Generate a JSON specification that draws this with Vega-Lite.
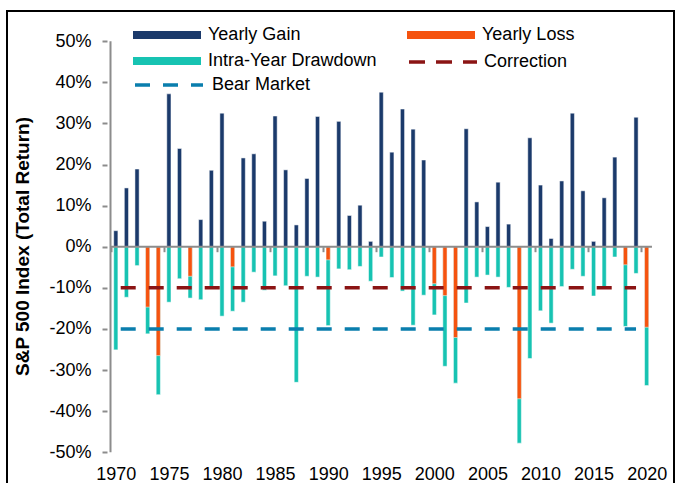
{
  "$schema": "https://vega.github.io/schema/vega-lite/v6.json",
  "width": 667,
  "height": 480,
  "autosize": {"type": "none"},
  "padding": {"left": 7, "top": 11, "right": 2, "bottom": 0},
  "background": "white",
  "config": {"view": {"stroke": "#000000", "strokeWidth": 2}, "font": "Liberation Sans"},
  "datasets": {
    "bars": [
      {"year": 1970, "type": "Yearly Gain", "v": 0.039}, {"year": 1970, "type": "Intra-Year Drawdown", "v": -0.251},
      {"year": 1971, "type": "Yearly Gain", "v": 0.143}, {"year": 1971, "type": "Intra-Year Drawdown", "v": -0.123},
      {"year": 1972, "type": "Yearly Gain", "v": 0.189}, {"year": 1972, "type": "Intra-Year Drawdown", "v": -0.046},
      {"year": 1973, "type": "Yearly Loss", "v": -0.147}, {"year": 1973, "type": "Intra-Year Drawdown", "v": -0.212},
      {"year": 1974, "type": "Yearly Loss", "v": -0.265}, {"year": 1974, "type": "Intra-Year Drawdown", "v": -0.36},
      {"year": 1975, "type": "Yearly Gain", "v": 0.372}, {"year": 1975, "type": "Intra-Year Drawdown", "v": -0.135},
      {"year": 1976, "type": "Yearly Gain", "v": 0.239}, {"year": 1976, "type": "Intra-Year Drawdown", "v": -0.078},
      {"year": 1977, "type": "Yearly Loss", "v": -0.072}, {"year": 1977, "type": "Intra-Year Drawdown", "v": -0.125},
      {"year": 1978, "type": "Yearly Gain", "v": 0.066}, {"year": 1978, "type": "Intra-Year Drawdown", "v": -0.129},
      {"year": 1979, "type": "Yearly Gain", "v": 0.186}, {"year": 1979, "type": "Intra-Year Drawdown", "v": -0.099},
      {"year": 1980, "type": "Yearly Gain", "v": 0.325}, {"year": 1980, "type": "Intra-Year Drawdown", "v": -0.169},
      {"year": 1981, "type": "Yearly Loss", "v": -0.049}, {"year": 1981, "type": "Intra-Year Drawdown", "v": -0.157},
      {"year": 1982, "type": "Yearly Gain", "v": 0.216}, {"year": 1982, "type": "Intra-Year Drawdown", "v": -0.135},
      {"year": 1983, "type": "Yearly Gain", "v": 0.226}, {"year": 1983, "type": "Intra-Year Drawdown", "v": -0.062},
      {"year": 1984, "type": "Yearly Gain", "v": 0.062}, {"year": 1984, "type": "Intra-Year Drawdown", "v": -0.106},
      {"year": 1985, "type": "Yearly Gain", "v": 0.318}, {"year": 1985, "type": "Intra-Year Drawdown", "v": -0.071},
      {"year": 1986, "type": "Yearly Gain", "v": 0.187}, {"year": 1986, "type": "Intra-Year Drawdown", "v": -0.095},
      {"year": 1987, "type": "Yearly Gain", "v": 0.053}, {"year": 1987, "type": "Intra-Year Drawdown", "v": -0.33},
      {"year": 1988, "type": "Yearly Gain", "v": 0.166}, {"year": 1988, "type": "Intra-Year Drawdown", "v": -0.072},
      {"year": 1989, "type": "Yearly Gain", "v": 0.317}, {"year": 1989, "type": "Intra-Year Drawdown", "v": -0.074},
      {"year": 1990, "type": "Yearly Loss", "v": -0.032}, {"year": 1990, "type": "Intra-Year Drawdown", "v": -0.192},
      {"year": 1991, "type": "Yearly Gain", "v": 0.305}, {"year": 1991, "type": "Intra-Year Drawdown", "v": -0.054},
      {"year": 1992, "type": "Yearly Gain", "v": 0.076}, {"year": 1992, "type": "Intra-Year Drawdown", "v": -0.056},
      {"year": 1993, "type": "Yearly Gain", "v": 0.101}, {"year": 1993, "type": "Intra-Year Drawdown", "v": -0.048},
      {"year": 1994, "type": "Yearly Gain", "v": 0.013}, {"year": 1994, "type": "Intra-Year Drawdown", "v": -0.084},
      {"year": 1995, "type": "Yearly Gain", "v": 0.376}, {"year": 1995, "type": "Intra-Year Drawdown", "v": -0.025},
      {"year": 1996, "type": "Yearly Gain", "v": 0.23}, {"year": 1996, "type": "Intra-Year Drawdown", "v": -0.075},
      {"year": 1997, "type": "Yearly Gain", "v": 0.335}, {"year": 1997, "type": "Intra-Year Drawdown", "v": -0.108},
      {"year": 1998, "type": "Yearly Gain", "v": 0.286}, {"year": 1998, "type": "Intra-Year Drawdown", "v": -0.191},
      {"year": 1999, "type": "Yearly Gain", "v": 0.211}, {"year": 1999, "type": "Intra-Year Drawdown", "v": -0.118},
      {"year": 2000, "type": "Yearly Loss", "v": -0.09}, {"year": 2000, "type": "Intra-Year Drawdown", "v": -0.166},
      {"year": 2001, "type": "Yearly Loss", "v": -0.119}, {"year": 2001, "type": "Intra-Year Drawdown", "v": -0.291},
      {"year": 2002, "type": "Yearly Loss", "v": -0.221}, {"year": 2002, "type": "Intra-Year Drawdown", "v": -0.332},
      {"year": 2003, "type": "Yearly Gain", "v": 0.287}, {"year": 2003, "type": "Intra-Year Drawdown", "v": -0.137},
      {"year": 2004, "type": "Yearly Gain", "v": 0.109}, {"year": 2004, "type": "Intra-Year Drawdown", "v": -0.074},
      {"year": 2005, "type": "Yearly Gain", "v": 0.049}, {"year": 2005, "type": "Intra-Year Drawdown", "v": -0.069},
      {"year": 2006, "type": "Yearly Gain", "v": 0.157}, {"year": 2006, "type": "Intra-Year Drawdown", "v": -0.074},
      {"year": 2007, "type": "Yearly Gain", "v": 0.055}, {"year": 2007, "type": "Intra-Year Drawdown", "v": -0.099},
      {"year": 2008, "type": "Yearly Loss", "v": -0.37}, {"year": 2008, "type": "Intra-Year Drawdown", "v": -0.478},
      {"year": 2009, "type": "Yearly Gain", "v": 0.265}, {"year": 2009, "type": "Intra-Year Drawdown", "v": -0.272},
      {"year": 2010, "type": "Yearly Gain", "v": 0.15}, {"year": 2010, "type": "Intra-Year Drawdown", "v": -0.156},
      {"year": 2011, "type": "Yearly Gain", "v": 0.02}, {"year": 2011, "type": "Intra-Year Drawdown", "v": -0.186},
      {"year": 2012, "type": "Yearly Gain", "v": 0.16}, {"year": 2012, "type": "Intra-Year Drawdown", "v": -0.097},
      {"year": 2013, "type": "Yearly Gain", "v": 0.325}, {"year": 2013, "type": "Intra-Year Drawdown", "v": -0.055},
      {"year": 2014, "type": "Yearly Gain", "v": 0.136}, {"year": 2014, "type": "Intra-Year Drawdown", "v": -0.072},
      {"year": 2015, "type": "Yearly Gain", "v": 0.013}, {"year": 2015, "type": "Intra-Year Drawdown", "v": -0.12},
      {"year": 2016, "type": "Yearly Gain", "v": 0.119}, {"year": 2016, "type": "Intra-Year Drawdown", "v": -0.102},
      {"year": 2017, "type": "Yearly Gain", "v": 0.218}, {"year": 2017, "type": "Intra-Year Drawdown", "v": -0.025},
      {"year": 2018, "type": "Yearly Loss", "v": -0.044}, {"year": 2018, "type": "Intra-Year Drawdown", "v": -0.194},
      {"year": 2019, "type": "Yearly Gain", "v": 0.315}, {"year": 2019, "type": "Intra-Year Drawdown", "v": -0.065},
      {"year": 2020, "type": "Yearly Loss", "v": -0.196}, {"year": 2020, "type": "Intra-Year Drawdown", "v": -0.338}
    ],
    "lines": [
      {"type": "Correction", "v": -0.1},
      {"type": "Bear Market", "v": -0.2}
    ]
  },
  "layer": [
    {
      "data": {"name": "bars"},
      "transform": [{"filter": "datum.type == 'Intra-Year Drawdown'"}],
      "mark": {"type": "bar", "size": 4.2, "stroke": "#ffffff", "strokeOpacity": 0.5, "strokeWidth": 1},
      "encoding": {
        "x": {
          "field": "year", "type": "quantitative",
          "scale": {"domain": [1960.222, 2022.105], "nice": false, "zero": false},
          "axis": {
            "orient": "bottom", "offset": -12, "values": [1970, 1975, 1980, 1985, 1990, 1995, 2000, 2005, 2010, 2015, 2020],
            "format": "d", "domain": false, "ticks": false, "tickSize": 0, "labelPadding": 0, "labelBaseline": "alphabetic",
            "labelFontSize": 18, "labelColor": "#000000", "labelFont": "Liberation Sans", "grid": false, "title": null,
            "labelFlush": false, "labelOverlap": false
          }
        },
        "y": {
          "field": "v", "type": "quantitative",
          "scale": {"domain": [-0.5944, 0.5735], "nice": false, "zero": false},
          "axis": {
            "orient": "left", "offset": -100, "values": [-0.5, -0.4, -0.3, -0.2, -0.1, 0, 0.1, 0.2, 0.3, 0.4, 0.5],
            "labelExpr": "round(datum.value * 100) + '%'", "domain": false, "grid": false,
            "tickSize": 5, "tickWidth": 2, "tickColor": "#8c8c8c",
            "labelFontSize": 18, "labelColor": "#000000", "labelFont": "Liberation Sans", "labelPadding": 11,
            "title": "S&P 500 Index (Total Return)", "titleFontSize": 19, "titleFontWeight": "bold", "titleColor": "#000000",
            "titleFont": "Liberation Sans", "titleX": -85, "titleY": 235, "titleAngle": 270, "titleBaseline": "middle", "titleAlign": "center"
          }
        },
        "y2": {"datum": 0},
        "color": {
          "field": "type", "type": "nominal",
          "scale": {"domain": ["Yearly Gain", "Intra-Year Drawdown", "Yearly Loss"], "range": ["#1B3A6B", "#17C3B2", "#F5530F"]},
          "legend": {
            "orient": "none", "legendX": 150, "legendY": 14, "columns": 2, "title": null,
            "symbolType": "M-3.4,-0.41H3.4V0.41H-3.4Z", "symbolSize": 400, "symbolStrokeWidth": 0, "symbolOpacity": 1,
            "labelFontSize": 18, "labelColor": "#000000", "labelFont": "Liberation Sans",
            "labelOffset": 31, "labelLimit": 400, "rowPadding": 7, "columnPadding": 30, "padding": 0
          }
        }
      }
    },
    {
      "data": {"name": "bars"},
      "transform": [{"filter": "datum.type != 'Intra-Year Drawdown'"}],
      "mark": {"type": "bar", "size": 4.2, "stroke": "#ffffff", "strokeOpacity": 0.5, "strokeWidth": 1},
      "encoding": {
        "x": {
          "field": "year", "type": "quantitative",
          "scale": {"domain": [1960.222, 2022.105], "nice": false, "zero": false},
          "axis": {
            "orient": "bottom", "offset": -244.3,
            "values": [1969.5, 1974.5, 1979.5, 1984.5, 1989.5, 1994.5, 1999.5, 2004.5, 2009.5, 2014.5, 2019.5],
            "domain": false, "ticks": true, "tickSize": 5, "tickWidth": 2, "tickColor": "#8c8c8c",
            "labels": false, "grid": false, "title": null
          }
        },
        "y": {
          "field": "v", "type": "quantitative",
          "scale": {"domain": [-0.5944, 0.5735], "nice": false, "zero": false},
          "axis": {
            "orient": "left", "offset": -100, "values": [-0.5, -0.4, -0.3, -0.2, -0.1, 0, 0.1, 0.2, 0.3, 0.4, 0.5],
            "labelExpr": "round(datum.value * 100) + '%'", "domain": false, "grid": false,
            "tickSize": 5, "tickWidth": 2, "tickColor": "#8c8c8c",
            "labelFontSize": 18, "labelColor": "#000000", "labelFont": "Liberation Sans", "labelPadding": 11,
            "title": "S&P 500 Index (Total Return)", "titleFontSize": 19, "titleFontWeight": "bold", "titleColor": "#000000",
            "titleFont": "Liberation Sans", "titleX": -85, "titleY": 235, "titleAngle": 270, "titleBaseline": "middle", "titleAlign": "center"
          }
        },
        "y2": {"datum": 0},
        "color": {
          "field": "type", "type": "nominal",
          "scale": {"domain": ["Yearly Gain", "Intra-Year Drawdown", "Yearly Loss"], "range": ["#1B3A6B", "#17C3B2", "#F5530F"]},
          "legend": {
            "orient": "none", "legendX": 150, "legendY": 14, "columns": 2, "title": null,
            "symbolType": "M-3.4,-0.41H3.4V0.41H-3.4Z", "symbolSize": 400, "symbolStrokeWidth": 0, "symbolOpacity": 1,
            "labelFontSize": 18, "labelColor": "#000000", "labelFont": "Liberation Sans",
            "labelOffset": 31, "labelLimit": 400, "rowPadding": 7, "columnPadding": 30, "padding": 0
          }
        }
      }
    },
    {
      "data": {"name": "lines"},
      "transform": [{"filter": "datum.type == 'Correction'"}],
      "mark": {"type": "rule", "strokeWidth": 3.5, "strokeDash": [15, 13], "strokeDashOffset": 23.1},
      "encoding": {
        "x": {"datum": 1970, "type": "quantitative", "axis": null},
        "x2": {"datum": 2019},
        "y": {
          "field": "v", "type": "quantitative",
          "scale": {"domain": [-0.5944, 0.5735], "nice": false, "zero": false},
          "axis": {
            "orient": "left", "offset": -100, "values": [-0.5, -0.4, -0.3, -0.2, -0.1, 0, 0.1, 0.2, 0.3, 0.4, 0.5],
            "labelExpr": "round(datum.value * 100) + '%'", "domain": false, "grid": false,
            "tickSize": 5, "tickWidth": 2, "tickColor": "#8c8c8c",
            "labelFontSize": 18, "labelColor": "#000000", "labelFont": "Liberation Sans", "labelPadding": 11,
            "title": "S&P 500 Index (Total Return)", "titleFontSize": 19, "titleFontWeight": "bold", "titleColor": "#000000",
            "titleFont": "Liberation Sans", "titleX": -85, "titleY": 235, "titleAngle": 270, "titleBaseline": "middle", "titleAlign": "center"
          }
        },
        "stroke": {
          "field": "type", "type": "nominal",
          "scale": {"domain": ["Correction"], "range": ["#8B1414"]},
          "legend": {
            "orient": "none", "legendX": 424, "legendY": 39, "title": null,
            "symbolType": "M-3.4,0H3.4", "symbolSize": 400, "symbolStrokeWidth": 3.5, "symbolDash": [16, 11], "symbolOpacity": 1,
            "labelFontSize": 18, "labelColor": "#000000", "labelFont": "Liberation Sans",
            "labelOffset": 29, "labelLimit": 400, "padding": 0
          }
        }
      }
    },
    {
      "data": {"name": "lines"},
      "transform": [{"filter": "datum.type == 'Bear Market'"}],
      "mark": {"type": "rule", "stroke": "#0A7EAD", "strokeWidth": 3.5, "strokeDashOffset": 23.1},
      "encoding": {
        "x": {"datum": 1970, "type": "quantitative", "axis": null},
        "x2": {"datum": 2019},
        "y": {
          "field": "v", "type": "quantitative",
          "scale": {"domain": [-0.5944, 0.5735], "nice": false, "zero": false},
          "axis": {
            "orient": "left", "offset": -100, "values": [-0.5, -0.4, -0.3, -0.2, -0.1, 0, 0.1, 0.2, 0.3, 0.4, 0.5],
            "labelExpr": "round(datum.value * 100) + '%'", "domain": false, "grid": false,
            "tickSize": 5, "tickWidth": 2, "tickColor": "#8c8c8c",
            "labelFontSize": 18, "labelColor": "#000000", "labelFont": "Liberation Sans", "labelPadding": 11,
            "title": "S&P 500 Index (Total Return)", "titleFontSize": 19, "titleFontWeight": "bold", "titleColor": "#000000",
            "titleFont": "Liberation Sans", "titleX": -85, "titleY": 235, "titleAngle": 270, "titleBaseline": "middle", "titleAlign": "center"
          }
        },
        "strokeDash": {
          "field": "type", "type": "nominal",
          "scale": {"domain": ["Bear Market"], "range": [[15, 13]]},
          "legend": {
            "orient": "none", "legendX": 150, "legendY": 62, "title": null,
            "symbolType": "M-3.4,0H3.4", "symbolSize": 400, "symbolStrokeWidth": 3.5, "symbolStrokeColor": "#0A7EAD", "symbolOpacity": 1,
            "labelFontSize": 18, "labelColor": "#000000", "labelFont": "Liberation Sans",
            "labelOffset": 31, "labelLimit": 400, "padding": 0
          }
        }
      }
    },
    {
      "data": {"values": [{}]},
      "mark": {"type": "rule", "stroke": "#8c8c8c", "strokeWidth": 2},
      "encoding": {
        "x": {"datum": 1969.5, "type": "quantitative", "axis": null},
        "x2": {"datum": 2020.5},
        "y": {
          "datum": 0, "type": "quantitative",
          "scale": {"domain": [-0.5944, 0.5735], "nice": false, "zero": false},
          "axis": {
            "orient": "left", "offset": -100, "values": [-0.5, -0.4, -0.3, -0.2, -0.1, 0, 0.1, 0.2, 0.3, 0.4, 0.5],
            "labelExpr": "round(datum.value * 100) + '%'", "domain": false, "grid": false,
            "tickSize": 5, "tickWidth": 2, "tickColor": "#8c8c8c",
            "labelFontSize": 18, "labelColor": "#000000", "labelFont": "Liberation Sans", "labelPadding": 11,
            "title": "S&P 500 Index (Total Return)", "titleFontSize": 19, "titleFontWeight": "bold", "titleColor": "#000000",
            "titleFont": "Liberation Sans", "titleX": -85, "titleY": 235, "titleAngle": 270, "titleBaseline": "middle", "titleAlign": "center"
          }
        }
      }
    },
    {
      "data": {"values": [{}]},
      "mark": {"type": "rule", "stroke": "#8c8c8c", "strokeWidth": 2},
      "encoding": {
        "x": {"datum": 1969.5, "type": "quantitative", "axis": null},
        "y": {
          "datum": -0.5, "type": "quantitative",
          "scale": {"domain": [-0.5944, 0.5735], "nice": false, "zero": false},
          "axis": {
            "orient": "left", "offset": -100, "values": [-0.5, -0.4, -0.3, -0.2, -0.1, 0, 0.1, 0.2, 0.3, 0.4, 0.5],
            "labelExpr": "round(datum.value * 100) + '%'", "domain": false, "grid": false,
            "tickSize": 5, "tickWidth": 2, "tickColor": "#8c8c8c",
            "labelFontSize": 18, "labelColor": "#000000", "labelFont": "Liberation Sans", "labelPadding": 11,
            "title": "S&P 500 Index (Total Return)", "titleFontSize": 19, "titleFontWeight": "bold", "titleColor": "#000000",
            "titleFont": "Liberation Sans", "titleX": -85, "titleY": 235, "titleAngle": 270, "titleBaseline": "middle", "titleAlign": "center"
          }
        },
        "y2": {"datum": 0.5}
      }
    }
  ],
  "resolve": {"axis": {"x": "independent"}}
}
